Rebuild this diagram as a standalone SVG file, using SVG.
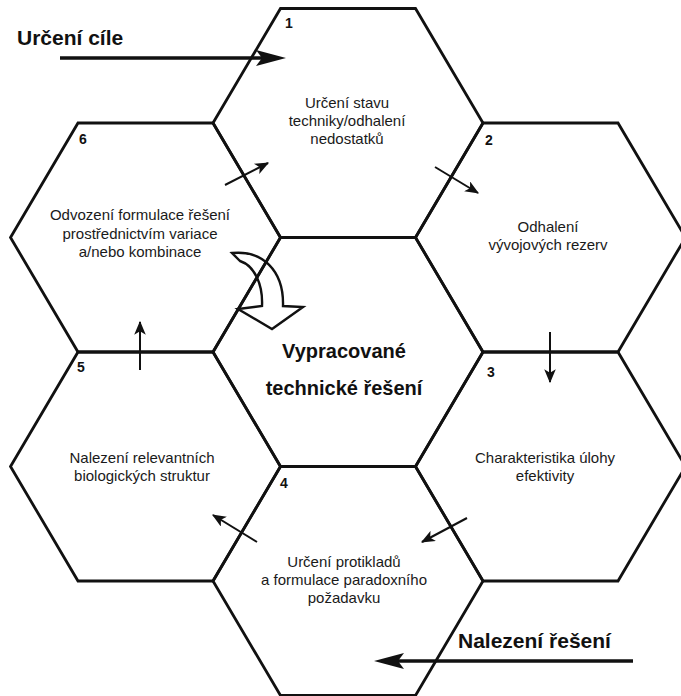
<svg xmlns="http://www.w3.org/2000/svg" width="681" height="696" viewBox="0 0 681 696">
<style>
.hex{fill:none;stroke:#111;stroke-width:2.8;stroke-linejoin:miter}
.t{font-family:"Liberation Sans",Arial,sans-serif;font-size:15px;fill:#1a1a1a;text-anchor:middle}
.n{font-family:"Liberation Sans",Arial,sans-serif;font-size:14px;font-weight:bold;fill:#111}
.b{font-family:"Liberation Sans",Arial,sans-serif;font-size:20px;font-weight:bold;fill:#111;text-anchor:middle}
.h{font-family:"Liberation Sans",Arial,sans-serif;font-size:21px;font-weight:bold;fill:#111}
.c{fill:none;stroke:#111;stroke-width:2;marker-end:url(#ah)}
.big{fill:none;stroke:#111;stroke-width:3.5}
</style>
<defs>
<marker id="ah" viewBox="0 0 12 10" refX="11" refY="5" markerWidth="7" markerHeight="5.8" orient="auto" markerUnits="strokeWidth">
<path d="M0,0 L12,5 L0,10 L3,5 Z" fill="#111"/>
</marker>
</defs>
<rect width="681" height="696" fill="#fff"/>
<g id="hex-center">
<polygon class="hex" points="213,352 280.5,237.5 415.5,237.5 483,352 415.5,466.5 280.5,466.5"/>
<text class="b" x="344" y="358">Vypracované</text>
<text class="b" x="344" y="395">technické řešení</text>
</g>
<g id="hex-1">
<polygon class="hex" points="213,123 280.5,8.5 415.5,8.5 483,123 415.5,237.5 280.5,237.5"/>
<text class="n" x="285" y="28">1</text>
<text class="t" x="347" y="108">Určení stavu</text>
<text class="t" x="347" y="126">techniky/odhalení</text>
<text class="t" x="347" y="144">nedostatků</text>
</g>
<g id="hex-2">
<polygon class="hex" points="415.5,237.5 483,123 618,123 685.5,237.5 618,352 483,352"/>
<text class="n" x="485" y="145">2</text>
<text class="t" x="548" y="232">Odhalení</text>
<text class="t" x="548" y="250">vývojových rezerv</text>
</g>
<g id="hex-3">
<polygon class="hex" points="415.5,466.5 483,352 618,352 685.5,466.5 618,581 483,581"/>
<text class="n" x="487" y="377">3</text>
<text class="t" x="545" y="463">Charakteristika úlohy</text>
<text class="t" x="545" y="481">efektivity</text>
</g>
<g id="hex-4">
<polygon class="hex" points="213,581 280.5,466.5 415.5,466.5 483,581 415.5,695.5 280.5,695.5"/>
<text class="n" x="280" y="488">4</text>
<text class="t" x="344" y="567">Určení protikladů</text>
<text class="t" x="344" y="585">a formulace paradoxního</text>
<text class="t" x="344" y="603">požadavku</text>
</g>
<g id="hex-5">
<polygon class="hex" points="10.5,466.5 78,352 213,352 280.5,466.5 213,581 78,581"/>
<text class="n" x="77" y="372">5</text>
<text class="t" x="142" y="463">Nalezení relevantních</text>
<text class="t" x="142" y="481">biologických struktur</text>
</g>
<g id="hex-6">
<polygon class="hex" points="10.5,237.5 78,123 213,123 280.5,237.5 213,352 78,352"/>
<text class="n" x="79" y="144">6</text>
<text class="t" x="140" y="220">Odvození formulace řešení</text>
<text class="t" x="140" y="238.5">prostřednictvím variace</text>
<text class="t" x="140" y="257">a/nebo kombinace</text>
</g>
<g id="input">
<text class="h" x="17" y="45">Určení cíle</text>
</g>
<g id="output">
<text class="h" x="458" y="648">Nalezení řešení</text>
</g>
<g id="connectors">
<line class="big" x1="60" y1="58" x2="262" y2="58"/>
<path d="M286,58 L256,50 L262,58 L256,66 Z" fill="#111"/>
<line class="big" x1="633" y1="661" x2="395" y2="661"/>
<path d="M374,661 L404,653 L398,661 L404,669 Z" fill="#111"/>
<line class="c" x1="225" y1="185" x2="268" y2="163"/>
<line class="c" x1="435" y1="167" x2="478" y2="193"/>
<line class="c" x1="550" y1="332" x2="550" y2="382"/>
<line class="c" x1="467" y1="518" x2="422" y2="542"/>
<line class="c" x1="257" y1="542" x2="213" y2="515"/>
<line class="c" x1="140" y1="370" x2="140" y2="322"/>
<path d="M232,253 C262,250 284,270 283,306 L303,307 L272,329 L238,309 L262,306 C263,285 255,266 240,261 Z" fill="none" stroke="#111" stroke-width="2.4" stroke-linejoin="miter"/>
</g>
</svg>
